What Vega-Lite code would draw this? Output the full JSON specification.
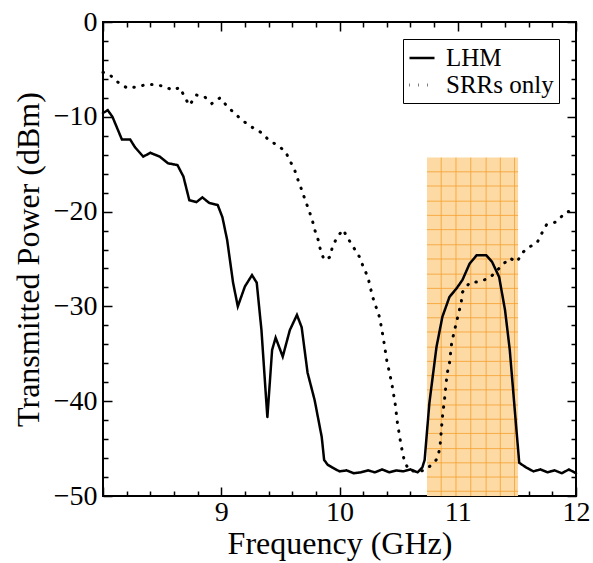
{
  "$schema": "https://vega.github.io/schema/vega-lite/v6.json",
  "width": 473,
  "height": 474,
  "autosize": "none",
  "padding": {"left": 103, "top": 22, "right": 17, "bottom": 67},
  "background": "white",
  "config": {
    "font": "Liberation Serif",
    "view": {"stroke": "black", "strokeWidth": 2},
    "axis": {
      "domain": false,
      "ticks": true,
      "tickColor": "#000000",
      "tickOpacity": 1,
      "tickWidth": 1.5,
      "labelColor": "black",
      "labelFont": "Liberation Serif",
      "labelFontSize": 28,
      "titleColor": "black",
      "titleFont": "Liberation Serif",
      "titleFontSize": 32,
      "titleFontWeight": "normal",
      "grid": false,
      "labelFlush": false,
      "labelOverlap": false,
      "labelBound": false
    }
  },
  "datasets": {
    "curves": [
      {"f": 8.00, "p": -9.6, "series": "LHM"},
      {"f": 8.04, "p": -9.3, "series": "LHM"},
      {"f": 8.08, "p": -10.0, "series": "LHM"},
      {"f": 8.12, "p": -11.2, "series": "LHM"},
      {"f": 8.16, "p": -12.4, "series": "LHM"},
      {"f": 8.23, "p": -12.4, "series": "LHM"},
      {"f": 8.27, "p": -13.2, "series": "LHM"},
      {"f": 8.34, "p": -14.2, "series": "LHM"},
      {"f": 8.40, "p": -13.8, "series": "LHM"},
      {"f": 8.48, "p": -14.2, "series": "LHM"},
      {"f": 8.55, "p": -14.9, "series": "LHM"},
      {"f": 8.63, "p": -15.1, "series": "LHM"},
      {"f": 8.68, "p": -16.3, "series": "LHM"},
      {"f": 8.73, "p": -18.8, "series": "LHM"},
      {"f": 8.79, "p": -19.0, "series": "LHM"},
      {"f": 8.84, "p": -18.5, "series": "LHM"},
      {"f": 8.90, "p": -19.1, "series": "LHM"},
      {"f": 8.97, "p": -19.3, "series": "LHM"},
      {"f": 9.01, "p": -20.6, "series": "LHM"},
      {"f": 9.05, "p": -23.0, "series": "LHM"},
      {"f": 9.10, "p": -27.5, "series": "LHM"},
      {"f": 9.14, "p": -30.0, "series": "LHM"},
      {"f": 9.20, "p": -27.9, "series": "LHM"},
      {"f": 9.26, "p": -26.7, "series": "LHM"},
      {"f": 9.30, "p": -27.5, "series": "LHM"},
      {"f": 9.34, "p": -32.5, "series": "LHM"},
      {"f": 9.39, "p": -41.7, "series": "LHM"},
      {"f": 9.43, "p": -34.6, "series": "LHM"},
      {"f": 9.46, "p": -33.3, "series": "LHM"},
      {"f": 9.52, "p": -35.3, "series": "LHM"},
      {"f": 9.58, "p": -32.5, "series": "LHM"},
      {"f": 9.64, "p": -30.9, "series": "LHM"},
      {"f": 9.68, "p": -32.2, "series": "LHM"},
      {"f": 9.73, "p": -37.0, "series": "LHM"},
      {"f": 9.79, "p": -39.9, "series": "LHM"},
      {"f": 9.85, "p": -43.8, "series": "LHM"},
      {"f": 9.87, "p": -46.2, "series": "LHM"},
      {"f": 9.90, "p": -46.7, "series": "LHM"},
      {"f": 9.94, "p": -47.0, "series": "LHM"},
      {"f": 10.00, "p": -47.4, "series": "LHM"},
      {"f": 10.06, "p": -47.3, "series": "LHM"},
      {"f": 10.12, "p": -47.6, "series": "LHM"},
      {"f": 10.18, "p": -47.5, "series": "LHM"},
      {"f": 10.24, "p": -47.3, "series": "LHM"},
      {"f": 10.30, "p": -47.5, "series": "LHM"},
      {"f": 10.36, "p": -47.2, "series": "LHM"},
      {"f": 10.42, "p": -47.5, "series": "LHM"},
      {"f": 10.48, "p": -47.3, "series": "LHM"},
      {"f": 10.54, "p": -47.4, "series": "LHM"},
      {"f": 10.60, "p": -47.2, "series": "LHM"},
      {"f": 10.66, "p": -47.5, "series": "LHM"},
      {"f": 10.70, "p": -47.0, "series": "LHM"},
      {"f": 10.72, "p": -46.2, "series": "LHM"},
      {"f": 10.76, "p": -40.2, "series": "LHM"},
      {"f": 10.82, "p": -34.3, "series": "LHM"},
      {"f": 10.87, "p": -31.1, "series": "LHM"},
      {"f": 10.93, "p": -29.0, "series": "LHM"},
      {"f": 10.99, "p": -28.1, "series": "LHM"},
      {"f": 11.04, "p": -27.2, "series": "LHM"},
      {"f": 11.10, "p": -25.5, "series": "LHM"},
      {"f": 11.16, "p": -24.6, "series": "LHM"},
      {"f": 11.24, "p": -24.6, "series": "LHM"},
      {"f": 11.29, "p": -25.3, "series": "LHM"},
      {"f": 11.35, "p": -26.9, "series": "LHM"},
      {"f": 11.40, "p": -30.4, "series": "LHM"},
      {"f": 11.44, "p": -34.6, "series": "LHM"},
      {"f": 11.48, "p": -40.6, "series": "LHM"},
      {"f": 11.52, "p": -46.5, "series": "LHM"},
      {"f": 11.58, "p": -47.0, "series": "LHM"},
      {"f": 11.64, "p": -47.4, "series": "LHM"},
      {"f": 11.70, "p": -47.2, "series": "LHM"},
      {"f": 11.76, "p": -47.5, "series": "LHM"},
      {"f": 11.82, "p": -47.3, "series": "LHM"},
      {"f": 11.88, "p": -47.6, "series": "LHM"},
      {"f": 11.94, "p": -47.2, "series": "LHM"},
      {"f": 12.00, "p": -47.6, "series": "LHM"},
      {"f": 8.00, "p": -5.3, "series": "SRRs only"},
      {"f": 8.06, "p": -5.6, "series": "SRRs only"},
      {"f": 8.14, "p": -6.5, "series": "SRRs only"},
      {"f": 8.21, "p": -7.0, "series": "SRRs only"},
      {"f": 8.30, "p": -6.8, "series": "SRRs only"},
      {"f": 8.37, "p": -6.6, "series": "SRRs only"},
      {"f": 8.44, "p": -6.6, "series": "SRRs only"},
      {"f": 8.52, "p": -6.8, "series": "SRRs only"},
      {"f": 8.59, "p": -7.2, "series": "SRRs only"},
      {"f": 8.65, "p": -6.9, "series": "SRRs only"},
      {"f": 8.69, "p": -7.9, "series": "SRRs only"},
      {"f": 8.73, "p": -8.8, "series": "SRRs only"},
      {"f": 8.79, "p": -7.7, "series": "SRRs only"},
      {"f": 8.86, "p": -7.9, "series": "SRRs only"},
      {"f": 8.92, "p": -8.6, "series": "SRRs only"},
      {"f": 8.99, "p": -8.0, "series": "SRRs only"},
      {"f": 9.05, "p": -8.9, "series": "SRRs only"},
      {"f": 9.11, "p": -9.6, "series": "SRRs only"},
      {"f": 9.18, "p": -10.4, "series": "SRRs only"},
      {"f": 9.26, "p": -11.1, "series": "SRRs only"},
      {"f": 9.33, "p": -11.6, "series": "SRRs only"},
      {"f": 9.39, "p": -12.3, "series": "SRRs only"},
      {"f": 9.47, "p": -13.0, "series": "SRRs only"},
      {"f": 9.54, "p": -13.6, "series": "SRRs only"},
      {"f": 9.58, "p": -14.6, "series": "SRRs only"},
      {"f": 9.62, "p": -15.6, "series": "SRRs only"},
      {"f": 9.65, "p": -16.7, "series": "SRRs only"},
      {"f": 9.68, "p": -17.7, "series": "SRRs only"},
      {"f": 9.71, "p": -18.8, "series": "SRRs only"},
      {"f": 9.74, "p": -19.8, "series": "SRRs only"},
      {"f": 9.77, "p": -20.9, "series": "SRRs only"},
      {"f": 9.79, "p": -21.9, "series": "SRRs only"},
      {"f": 9.82, "p": -23.0, "series": "SRRs only"},
      {"f": 9.84, "p": -24.1, "series": "SRRs only"},
      {"f": 9.87, "p": -25.1, "series": "SRRs only"},
      {"f": 9.92, "p": -24.8, "series": "SRRs only"},
      {"f": 9.94, "p": -23.7, "series": "SRRs only"},
      {"f": 9.98, "p": -22.7, "series": "SRRs only"},
      {"f": 10.03, "p": -21.9, "series": "SRRs only"},
      {"f": 10.07, "p": -22.8, "series": "SRRs only"},
      {"f": 10.12, "p": -23.8, "series": "SRRs only"},
      {"f": 10.17, "p": -24.8, "series": "SRRs only"},
      {"f": 10.20, "p": -25.8, "series": "SRRs only"},
      {"f": 10.24, "p": -26.9, "series": "SRRs only"},
      {"f": 10.28, "p": -29.0, "series": "SRRs only"},
      {"f": 10.31, "p": -30.1, "series": "SRRs only"},
      {"f": 10.34, "p": -31.2, "series": "SRRs only"},
      {"f": 10.37, "p": -33.3, "series": "SRRs only"},
      {"f": 10.40, "p": -35.7, "series": "SRRs only"},
      {"f": 10.44, "p": -38.0, "series": "SRRs only"},
      {"f": 10.47, "p": -40.2, "series": "SRRs only"},
      {"f": 10.49, "p": -42.3, "series": "SRRs only"},
      {"f": 10.52, "p": -44.6, "series": "SRRs only"},
      {"f": 10.55, "p": -46.4, "series": "SRRs only"},
      {"f": 10.59, "p": -47.3, "series": "SRRs only"},
      {"f": 10.65, "p": -47.4, "series": "SRRs only"},
      {"f": 10.72, "p": -47.3, "series": "SRRs only"},
      {"f": 10.79, "p": -46.6, "series": "SRRs only"},
      {"f": 10.83, "p": -46.0, "series": "SRRs only"},
      {"f": 10.85, "p": -44.8, "series": "SRRs only"},
      {"f": 10.87, "p": -41.7, "series": "SRRs only"},
      {"f": 10.89, "p": -39.6, "series": "SRRs only"},
      {"f": 10.91, "p": -37.1, "series": "SRRs only"},
      {"f": 10.93, "p": -36.0, "series": "SRRs only"},
      {"f": 10.95, "p": -33.7, "series": "SRRs only"},
      {"f": 10.97, "p": -32.7, "series": "SRRs only"},
      {"f": 10.99, "p": -31.6, "series": "SRRs only"},
      {"f": 11.01, "p": -30.6, "series": "SRRs only"},
      {"f": 11.03, "p": -29.5, "series": "SRRs only"},
      {"f": 11.04, "p": -28.5, "series": "SRRs only"},
      {"f": 11.10, "p": -27.5, "series": "SRRs only"},
      {"f": 11.18, "p": -27.4, "series": "SRRs only"},
      {"f": 11.27, "p": -27.0, "series": "SRRs only"},
      {"f": 11.38, "p": -25.6, "series": "SRRs only"},
      {"f": 11.44, "p": -24.9, "series": "SRRs only"},
      {"f": 11.50, "p": -25.3, "series": "SRRs only"},
      {"f": 11.55, "p": -24.3, "series": "SRRs only"},
      {"f": 11.61, "p": -23.7, "series": "SRRs only"},
      {"f": 11.67, "p": -23.3, "series": "SRRs only"},
      {"f": 11.71, "p": -22.3, "series": "SRRs only"},
      {"f": 11.75, "p": -21.4, "series": "SRRs only"},
      {"f": 11.83, "p": -21.1, "series": "SRRs only"},
      {"f": 11.92, "p": -20.0, "series": "SRRs only"},
      {"f": 12.00, "p": -20.0, "series": "SRRs only"}
    ],
    "band": [{"f1": 10.74, "f2": 11.51, "p1": -14.3, "p2": -50}],
    "vgrid": [
      {"f": 10.86, "p1": -14.3, "p2": -50},
      {"f": 10.985, "p1": -14.3, "p2": -50},
      {"f": 11.11, "p1": -14.3, "p2": -50},
      {"f": 11.24, "p1": -14.3, "p2": -50},
      {"f": 11.36, "p1": -14.3, "p2": -50},
      {"f": 11.48, "p1": -14.3, "p2": -50}
    ],
    "hgrid": [
      {"p": -15.8, "f1": 10.74, "f2": 11.51},
      {"p": -17.3, "f1": 10.74, "f2": 11.51},
      {"p": -18.9, "f1": 10.74, "f2": 11.51},
      {"p": -20.4, "f1": 10.74, "f2": 11.51},
      {"p": -21.9, "f1": 10.74, "f2": 11.51},
      {"p": -23.5, "f1": 10.74, "f2": 11.51},
      {"p": -25.0, "f1": 10.74, "f2": 11.51},
      {"p": -26.6, "f1": 10.74, "f2": 11.51},
      {"p": -28.1, "f1": 10.74, "f2": 11.51},
      {"p": -29.7, "f1": 10.74, "f2": 11.51},
      {"p": -31.2, "f1": 10.74, "f2": 11.51},
      {"p": -32.7, "f1": 10.74, "f2": 11.51},
      {"p": -34.3, "f1": 10.74, "f2": 11.51},
      {"p": -35.8, "f1": 10.74, "f2": 11.51},
      {"p": -37.3, "f1": 10.74, "f2": 11.51},
      {"p": -38.8, "f1": 10.74, "f2": 11.51},
      {"p": -40.4, "f1": 10.74, "f2": 11.51},
      {"p": -41.9, "f1": 10.74, "f2": 11.51},
      {"p": -43.4, "f1": 10.74, "f2": 11.51},
      {"p": -45.0, "f1": 10.74, "f2": 11.51},
      {"p": -46.5, "f1": 10.74, "f2": 11.51},
      {"p": -48.0, "f1": 10.74, "f2": 11.51},
      {"p": -49.5, "f1": 10.74, "f2": 11.51}
    ]
  },
  "layer": [
    {
      "data": {"name": "band"},
      "mark": {"type": "rect", "fill": "#FDD9A3", "stroke": null},
      "encoding": {
        "x": {
          "field": "f1", "type": "quantitative",
          "scale": {"domain": [8, 12], "nice": false, "zero": false},
          "axis": {
            "orient": "bottom",
            "title": "Frequency (GHz)",
            "titleColor": "black",
            "values": [8, 9, 10, 11, 12],
            "format": "d",
            "labelExpr": "datum.value >= 9 ? datum.label : ''",
            "ticks": true,
            "tickColor": "black",
            "offset": -9,
            "tickSize": 9,
            "labelPadding": 2,
            "titlePadding": 2
          }
        },
        "x2": {"field": "f2"},
        "y": {
          "field": "p1", "type": "quantitative",
          "scale": {"domain": [-50, 0], "nice": false, "zero": false},
          "axis": {
            "orient": "left",
            "title": "Transmitted Power (dBm)",
            "titleColor": "black",
            "values": [-50, -40, -30, -20, -10, 0],
            "format": "d",
            "ticks": true,
            "tickColor": "black",
            "offset": -9,
            "tickSize": 9,
            "labelPadding": 6,
            "titlePadding": 8
          }
        },
        "y2": {"field": "p2"}
      }
    },
    {
      "data": {"name": "vgrid"},
      "mark": {"type": "rule", "stroke": "#F5A030", "strokeWidth": 1, "opacity": 0.8},
      "encoding": {
        "x": {
          "field": "f", "type": "quantitative",
          "axis": {
            "orient": "bottom",
            "title": null,
            "values": [8.2, 8.4, 8.6, 8.8, 9.2, 9.4, 9.6, 9.8, 10.2, 10.4, 10.6, 10.8, 11.2, 11.4, 11.6, 11.8],
            "labels": false,
            "ticks": true,
            "tickColor": "black",
            "offset": -5,
            "tickSize": 5
          }
        },
        "y": {
          "field": "p1", "type": "quantitative",
          "axis": {
            "orient": "left",
            "title": null,
            "values": [-48, -46, -44, -42, -38, -36, -34, -32, -28, -26, -24, -22, -18, -16, -14, -12, -8, -6, -4, -2],
            "labels": false,
            "ticks": true,
            "tickColor": "black",
            "offset": -5,
            "tickSize": 5
          }
        },
        "y2": {"field": "p2"}
      }
    },
    {
      "data": {"name": "hgrid"},
      "mark": {"type": "rule", "stroke": "#F5A030", "strokeWidth": 1, "opacity": 0.8},
      "encoding": {
        "y": {
          "field": "p", "type": "quantitative",
          "axis": {
            "orient": "right",
            "title": null,
            "values": [-50, -40, -30, -20, -10, 0],
            "labels": false,
            "ticks": true,
            "tickColor": "black",
            "offset": -9,
            "tickSize": 9
          }
        },
        "x": {
          "field": "f1", "type": "quantitative",
          "axis": {
            "orient": "top",
            "title": null,
            "values": [8, 9, 10, 11, 12],
            "labels": false,
            "ticks": true,
            "tickColor": "black",
            "offset": -9,
            "tickSize": 9
          }
        },
        "x2": {"field": "f2"}
      }
    },
    {
      "data": {"name": "curves"},
      "mark": {"type": "line", "color": "black", "strokeCap": "round"},
      "encoding": {
        "x": {
          "field": "f", "type": "quantitative",
          "axis": {
            "orient": "top",
            "title": null,
            "values": [8.2, 8.4, 8.6, 8.8, 9.2, 9.4, 9.6, 9.8, 10.2, 10.4, 10.6, 10.8, 11.2, 11.4, 11.6, 11.8],
            "labels": false,
            "ticks": true,
            "tickColor": "black",
            "offset": -5,
            "tickSize": 5
          }
        },
        "y": {
          "field": "p", "type": "quantitative",
          "axis": {
            "orient": "right",
            "title": null,
            "values": [-48, -46, -44, -42, -38, -36, -34, -32, -28, -26, -24, -22, -18, -16, -14, -12, -8, -6, -4, -2],
            "labels": false,
            "ticks": true,
            "tickColor": "black",
            "offset": -5,
            "tickSize": 5
          }
        },
        "strokeWidth": {
          "field": "series", "type": "nominal",
          "scale": {"domain": ["LHM", "SRRs only"], "range": [2.5, 3]},
          "legend": null
        },
        "strokeDash": {
          "field": "series", "type": "nominal",
          "scale": {"domain": ["LHM", "SRRs only"], "range": [[1, 0], [0.5, 8.5]]},
          "legend": {
            "title": null,
            "orient": "top-right",
            "offset": 17,
            "strokeColor": "black",
            "fillColor": "white",
            "padding": 5,
            "symbolType": "stroke",
            "symbolSize": 625,
            "symbolStrokeWidth": 2.5,
            "symbolStrokeColor": "black",
            "labelFont": "Liberation Serif",
            "labelFontSize": 25,
            "labelColor": "black",
            "labelOffset": 10,
            "rowPadding": 0
          }
        }
      }
    }
  ],
  "resolve": {"axis": {"x": "independent", "y": "independent"}}
}
